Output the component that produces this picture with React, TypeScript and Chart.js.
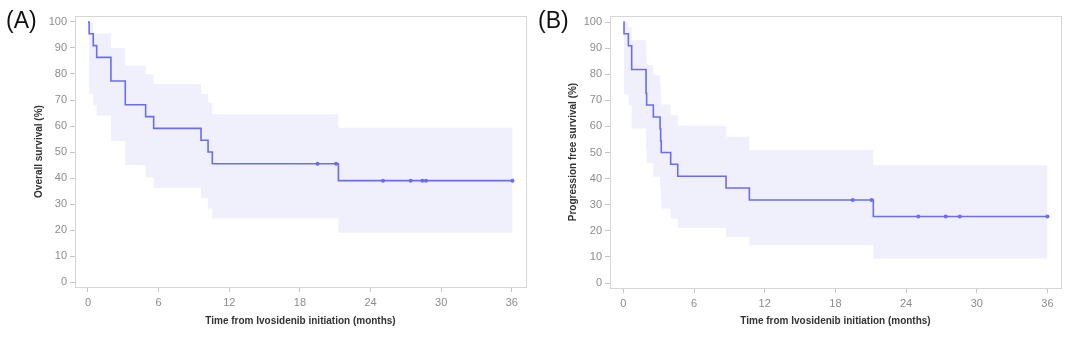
import React, { useEffect, useRef } from 'react';
import { Chart, registerables } from 'chart.js';
Chart.register(...registerables);

const X_TICKS = [0, 6, 12, 18, 24, 30, 36];
const Y_TICKS = [0, 10, 20, 30, 40, 50, 60, 70, 80, 90, 100];
const X_TITLE = 'Time from Ivosidenib initiation (months)';

// Panel A: Overall survival
const A_TIMES = [0, 0.1, 0.45, 0.74, 1.95, 3.17, 4.9, 5.58, 9.6, 10.2, 10.56, 21.27, 36.05];
const A_SURV = [100, 95.5, 90.9, 86.4, 77.3, 68.2, 63.6, 59.1, 54.5, 50.0, 45.5, 39.0, 39.0];
const A_UPPER = [100, 100, 95.6, 95.6, 90, 83.2, 79.9, 76.2, 72.3, 69, 64.5, 59.3, 59.3];
const A_LOWER = [100, 72.3, 68, 64, 54.2, 45, 40.3, 36.3, 32.2, 28.3, 24.5, 19, 19];
const A_CENSOR_T = [19.5, 21.07, 25.06, 27.4, 28.4, 28.7, 36.05];
const A_CENSOR_V = [45.5, 45.5, 39, 39, 39, 39, 39];

// Panel B: Progression free survival
const B_TIMES = [0, 0.06, 0.43, 0.71, 1.93, 1.98, 2.55, 3.12, 3.17, 3.22, 4.02, 4.62, 8.72, 10.7, 21.22, 36.0];
const B_SURV = [100, 95.5, 90.9, 81.8, 72.7, 68.2, 63.6, 59.1, 54.5, 50.0, 45.5, 40.9, 36.4, 31.8, 25.5, 25.5];
const B_UPPER = [100, 100, 98, 93, 87, 83.5, 79.6, 76, 72, 68.4, 64.3, 60.3, 56, 51, 45.1, 45.1];
const B_LOWER = [100, 72.4, 68, 59.2, 51, 46, 40.7, 36, 32, 28.6, 24.7, 21.2, 17.6, 14.5, 9.4, 9.4];
const B_CENSOR_T = [19.47, 21.08, 25.04, 27.37, 28.56, 36.0];
const B_CENSOR_V = [31.8, 31.8, 25.5, 25.5, 25.5, 25.5];

const LINE = '#6b6bf6';
const BAND = '#f0f0fd';
const FRAME = '#d6d6d6';
const FONT = "'Liberation Sans', Arial, sans-serif";

type Panel = {
  label: string;
  yTitle: string;
  times: number[]; surv: number[]; upper: number[]; lower: number[];
  censorT: number[]; censorV: number[];
  yWidth: number; yTitlePad: number; padRight: number; xHeight: number;
  xMin: number; xMax: number; yMin: number; yMax: number;
};

const PANELS: Panel[] = [
  {
    label: '(A)', yTitle: 'Overall survival (%)',
    times: A_TIMES, surv: A_SURV, upper: A_UPPER, lower: A_LOWER,
    censorT: A_CENSOR_T, censorV: A_CENSOR_V,
    yWidth: 75, yTitlePad: 33, padRight: 14, xHeight: 52,
    xMin: -1.1, xMax: 37.2, yMin: -1.9, yMax: 102.3,
  },
  {
    label: '(B)', yTitle: 'Progression free survival (%)',
    times: B_TIMES, surv: B_SURV, upper: B_UPPER, lower: B_LOWER,
    censorT: B_CENSOR_T, censorV: B_CENSOR_V,
    yWidth: 70, yTitlePad: 27, padRight: 19, xHeight: 51,
    xMin: -1.13, xMax: 37.15, yMin: -1.9, yMax: 102.3,
  },
];

const framePlugin = {
  id: 'frame',
  beforeDatasetsDraw(chart: any) {
    const { ctx, chartArea: a } = chart;
    ctx.save();
    ctx.strokeStyle = FRAME;
    ctx.lineWidth = 1;
    ctx.strokeRect(Math.round(a.left) + 0.5, Math.round(a.top) + 0.5, Math.round(a.right - a.left), Math.round(a.bottom - a.top));
    ctx.restore();
  },
};

function pts(xs: number[], ys: number[]) {
  return xs.map((x, i) => ({ x, y: ys[i] }));
}

function KMChart({ p }: { p: Panel }) {
  const ref = useRef<HTMLCanvasElement>(null);
  useEffect(() => {
    if (!ref.current) return;
    const chart = new Chart(ref.current, {
      type: 'line',
      data: {
        datasets: [
          {
            data: pts(p.times, p.upper), stepped: true, borderWidth: 0, borderColor: 'rgba(0,0,0,0)',
            backgroundColor: BAND, fill: '+1', pointRadius: 0, order: 5,
          },
          {
            data: pts(p.times, p.lower), stepped: true, borderWidth: 0, borderColor: 'rgba(0,0,0,0)',
            fill: false, pointRadius: 0, order: 4,
          },
          {
            data: pts(p.times, p.surv), stepped: true, borderWidth: 1.6, borderColor: LINE,
            fill: false, pointRadius: 0, order: 1,
          },
          {
            data: pts(p.censorT, p.censorV), showLine: false, pointRadius: 2, pointStyle: 'circle',
            pointBackgroundColor: LINE, pointBorderColor: LINE, pointBorderWidth: 0, order: 0,
          },
        ] as any,
      },
      options: {
        responsive: false,
        animation: false,
        events: [],
        layout: { padding: { left: 0, top: 16, right: p.padRight, bottom: 0 } },
        plugins: { legend: { display: false }, tooltip: { enabled: false } },
        scales: {
          x: {
            type: 'linear', min: p.xMin, max: p.xMax,
            afterFit: (s: any) => { s.height = p.xHeight; },
            afterBuildTicks: (s: any) => { s.ticks = X_TICKS.map((v) => ({ value: v })); },
            grid: { drawOnChartArea: false, drawTicks: true, tickLength: 5, color: '#c4c4c4' },
            border: { display: true, color: FRAME },
            ticks: { color: '#8c8c8c', font: { size: 11, family: FONT }, padding: 4, maxRotation: 0 },
            title: { display: true, text: X_TITLE, color: '#333', font: { size: 10, weight: 'bold', family: FONT }, padding: { top: 0, bottom: 12 } },
          },
          y: {
            type: 'linear', min: p.yMin, max: p.yMax,
            afterFit: (s: any) => { s.width = p.yWidth; },
            afterBuildTicks: (s: any) => { s.ticks = Y_TICKS.map((v) => ({ value: v })); },
            grid: { drawOnChartArea: false, drawTicks: true, tickLength: 5, color: '#c4c4c4' },
            border: { display: true, color: FRAME },
            ticks: { color: '#8c8c8c', font: { size: 11, family: FONT }, padding: 3 },
            title: { display: true, text: p.yTitle, color: '#333', font: { size: 10, weight: 'bold', family: FONT }, padding: { top: p.yTitlePad, bottom: 0 } },
          },
        },
      } as any,
      plugins: [framePlugin],
    });
    return () => chart.destroy();
  }, [p]);
  return <canvas ref={ref} width={540} height={339} style={{ width: 540, height: 339, display: 'block' }} />;
}

export default function App() {
  return (
    <div style={{ position: 'absolute', left: 0, top: 0, width: 1080, height: 339, background: '#fff', overflow: 'hidden' }}>
      {PANELS.map((p, i) => (
        <div key={i} style={{ position: 'absolute', left: i * 540, top: 0, width: 540, height: 339 }}>
          <KMChart p={p} />
          <div style={{ position: 'absolute', left: i === 0 ? 6 : -2, top: 6, fontFamily: "'Liberation Sans', Arial, sans-serif", fontSize: 23, color: '#111', lineHeight: '28px' }}>
            {p.label}
          </div>
        </div>
      ))}
    </div>
  );
}
